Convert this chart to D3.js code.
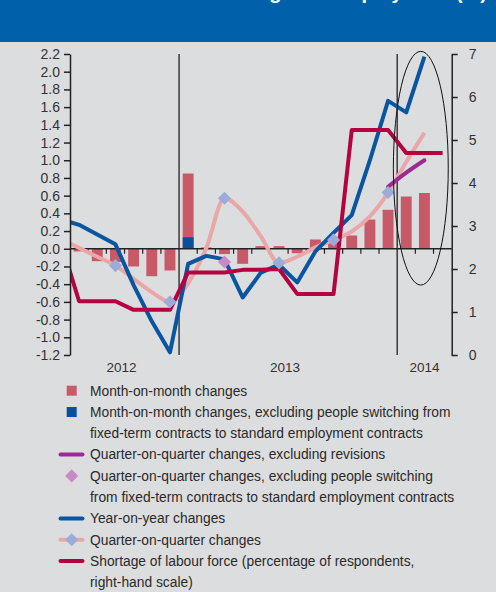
<!DOCTYPE html>
<html>
<head>
<meta charset="utf-8">
<script src="https://cdn.jsdelivr.net/npm/d3@7/dist/d3.min.js"></script>
<style>
  html, body { margin: 0; padding: 0; background: #dcdddf; }
  svg { display: block; font-family: "Liberation Sans", Arial, sans-serif; }
</style>
</head>
<body>
<svg id="chart" width="496" height="592"></svg>
<script>
// Months on the category axis (Jul 2012 – Mar 2014)
const months = ["2012-07","2012-08","2012-09","2012-10","2012-11","2012-12",
  "2013-01","2013-02","2013-03","2013-04","2013-05","2013-06",
  "2013-07","2013-08","2013-09","2013-10","2013-11","2013-12",
  "2014-01","2014-02","2014-03"];
// Line series start one month earlier (Jun 2012) and run off the left edge
const lineMonths = ["2012-06"].concat(months);

const years = ["2012", "2013", "2014"];

// Month-on-month changes (%), bars
const momChanges = [-0.03, -0.14, -0.15, -0.20, -0.31, -0.245,
  0.85, 0.015, -0.06, -0.17, 0.03, 0.03,
  -0.05, 0.105, 0.07, 0.15, 0.33, 0.44,
  0.59, 0.63, null];
// Month-on-month changes excluding contract switchers (%)
const momExclSwitch = [null, null, null, null, null, null,
  0.13, null, null, null, null, null,
  null, null, null, null, null, null,
  null, null, null];

// Year-on-year changes (%), from Jun 2012
const yoyChanges = [0.33, 0.27, 0.16, 0.05, -0.41, -0.82, -1.17,
  -0.17, -0.08, -0.12, -0.55, -0.27, -0.18,
  -0.38, -0.03, 0.18, 0.38, 1.00, 1.67,
  1.54, 2.17, null];
// Quarter-on-quarter changes (%), from Jun 2012
const qoqChanges = [0.11, 0.01, -0.09, -0.19, -0.34, -0.49, -0.60,
  -0.39, 0.01, 0.57, 0.42, 0.14, -0.16,
  -0.09, 0.015, 0.10, 0.195, 0.365, 0.635,
  0.98, 1.31, null];
// Quarter-on-quarter changes excluding revisions (%)
const qoqExclRevMonths = ["2013-12", "2014-01", "2014-02"];
const qoqExclRevValues = [0.70, 0.86, 1.00];
// Quarter-on-quarter change excluding contract switchers (%)
const qoqExclSwitchMonths = ["2013-03"];
const qoqExclSwitchValues = [-0.15];
// Quarter-end markers on the quarter-on-quarter line
const quarterEnds = ["2012-09", "2012-12", "2013-03", "2013-06", "2013-09", "2013-12"];

// Shortage of labour force (% of respondents, right-hand scale), from Jun 2012
const labourShortage = [2.62, 1.25, 1.25, 1.25, 1.05, 1.05, 1.05,
  1.92, 1.92, 1.92, 1.98, 1.98, 2.00,
  1.42, 1.42, 1.42, 5.23, 5.23, 5.23,
  4.70, 4.70, 4.70];

const leftTicks = d3.range(-1.2, 2.2001, 0.2).map(v => Math.round(v * 10) / 10);
const rightTicks = [0, 1, 2, 3, 4, 5, 6, 7];

const colors = {
  header: "#0060a9",
  bar: "#c75a66",
  barBlue: "#0a4f9c",
  yoy: "#0a559f",
  qoq: "#e9a7a7",
  qoqMarker: "#9cacd8",
  exclRev: "#9a2b93",
  exclSwitch: "#c98bc6",
  shortage: "#b5033f",
  axis: "#222"
};

const svg = d3.select("#chart");
const W = 496, H = 592;
const plot = { left: 70, right: 451.7, top: 54, bottom: 355 };

// Header band; the title sits above the top edge so only its descenders show
svg.append("rect").attr("x", 0).attr("y", 0).attr("width", W).attr("height", 42)
  .attr("fill", colors.header);
svg.append("text").attr("x", 487).attr("y", -1).attr("text-anchor", "end")
  .attr("fill", "#fff").attr("font-size", 20).attr("font-weight", "bold")
  .text("Changes in employment (%)");

// Scales
const xBand = d3.scaleBand().domain(months).range([plot.left, plot.right])
  .paddingInner(0.4).paddingOuter(0.2);
const step = xBand.step();
const xIdx = d3.scaleLinear().domain([-0.5, months.length - 0.5]).range([plot.left, plot.right]);
const xMonth = m => xIdx(months.indexOf(m));
const yL = d3.scaleLinear().domain([-1.2, 2.2]).range([plot.bottom, plot.top]);
const yR = d3.scaleLinear().domain([0, 7]).range([plot.bottom, plot.top]);

svg.append("clipPath").attr("id", "plotClip").append("rect")
  .attr("x", plot.left).attr("y", 0).attr("width", plot.right - plot.left).attr("height", H);

const g = svg.append("g");

// Bars
g.selectAll("rect.mom").data(months.map((m, i) => ({ m, v: momChanges[i] })).filter(d => d.v !== null))
  .join("rect").attr("class", "mom")
  .attr("x", d => xBand(d.m)).attr("width", xBand.bandwidth())
  .attr("y", d => yL(Math.max(0, d.v))).attr("height", d => Math.abs(yL(d.v) - yL(0)))
  .attr("fill", colors.bar);
g.selectAll("rect.momx").data(months.map((m, i) => ({ m, v: momExclSwitch[i] })).filter(d => d.v !== null))
  .join("rect").attr("class", "momx")
  .attr("x", d => xBand(d.m)).attr("width", xBand.bandwidth())
  .attr("y", d => yL(Math.max(0, d.v))).attr("height", d => Math.abs(yL(d.v) - yL(0)))
  .attr("fill", colors.barBlue);

// Year separators
[6, 12 + 6].forEach(k => {
  g.append("line").attr("x1", xIdx(k - 0.5)).attr("x2", xIdx(k - 0.5))
    .attr("y1", plot.top).attr("y2", plot.bottom)
    .attr("stroke", colors.axis).attr("stroke-width", 1.3);
});

// Zero line with month ticks
g.append("line").attr("x1", plot.left).attr("x2", plot.right)
  .attr("y1", yL(0)).attr("y2", yL(0)).attr("stroke", colors.axis).attr("stroke-width", 1.5);
d3.range(1, months.length).filter(k => k !== 6 && k !== 18).forEach(k => {
  g.append("line").attr("x1", xIdx(k - 0.5)).attr("x2", xIdx(k - 0.5))
    .attr("y1", yL(0)).attr("y2", yL(0) + 5)
    .attr("stroke", colors.axis).attr("stroke-width", 1.2);
});

// Lines
const lineGen = (yScale) => d3.line()
  .defined(d => d.v !== null)
  .x(d => xIdx(d.i)).y(d => yScale(d.v));
const series = arr => lineMonths.map((m, k) => ({ i: k - 1, v: arr[k] }));

const lines = g.append("g").attr("clip-path", "url(#plotClip)");
lines.append("path").datum(series(qoqChanges))
  .attr("d", lineGen(yL).curve(d3.curveMonotoneX))
  .attr("fill", "none").attr("stroke", colors.qoq).attr("stroke-width", 4).attr("stroke-linejoin", "round");
lines.append("path").datum(series(yoyChanges))
  .attr("d", lineGen(yL))
  .attr("fill", "none").attr("stroke", colors.yoy).attr("stroke-width", 4).attr("stroke-linejoin", "round");
lines.append("path").datum(series(labourShortage))
  .attr("d", lineGen(yR))
  .attr("fill", "none").attr("stroke", colors.shortage).attr("stroke-width", 4).attr("stroke-linejoin", "round");
lines.append("path").datum(qoqExclRevMonths.map((m, k) => ({ i: months.indexOf(m), v: qoqExclRevValues[k] })))
  .attr("d", lineGen(yL).curve(d3.curveMonotoneX))
  .attr("fill", "none").attr("stroke", colors.exclRev).attr("stroke-width", 4).attr("stroke-linecap", "round");

// Diamond markers
const diamond = d3.symbol().type(d3.symbolDiamond2).size(110);
g.selectAll("path.qm").data(quarterEnds).join("path").attr("class", "qm")
  .attr("transform", m => `translate(${xMonth(m)},${yL(qoqChanges[lineMonths.indexOf(m)])})`)
  .attr("d", diamond).attr("fill", colors.qoqMarker);
g.selectAll("path.qx").data(qoqExclSwitchMonths).join("path").attr("class", "qx")
  .attr("transform", (m, k) => `translate(${xMonth(m)},${yL(qoqExclSwitchValues[k])})`)
  .attr("d", diamond).attr("fill", colors.exclSwitch);

// Highlight ellipse around the latest readings
g.append("ellipse")
  .attr("cx", xIdx(18.8)).attr("cy", (yL(2.23) + yL(-0.41)) / 2)
  .attr("rx", step * 1.51).attr("ry", (yL(-0.41) - yL(2.23)) / 2)
  .attr("fill", "none").attr("stroke", "#111").attr("stroke-width", 1);

// Axes
const fmt = v => v.toFixed(1);
const leftAxis = svg.append("g").attr("transform", `translate(${plot.left},0)`)
  .call(d3.axisLeft(yL).tickValues(leftTicks).tickFormat(fmt).tickSize(6).tickSizeOuter(0).tickPadding(4));
const rightAxis = svg.append("g").attr("transform", `translate(${plot.right},0)`)
  .call(d3.axisRight(yR).tickValues(rightTicks).tickFormat(d3.format("d")).tickSize(6).tickSizeOuter(0).tickPadding(11));
[leftAxis, rightAxis].forEach(a => {
  a.select(".domain").attr("stroke", colors.axis).attr("stroke-width", 1.5);
  a.selectAll(".tick line").attr("stroke", colors.axis).attr("stroke-width", 1.5);
  a.selectAll(".tick text").attr("fill", "#333").attr("font-size", 14)
    .attr("font-family", "Liberation Sans, Arial, sans-serif");
});

// Year labels
const yearSpan = { "2012": [0, 5], "2013": [6, 17], "2014": [18, 20] };
svg.selectAll("text.year").data(years).join("text").attr("class", "year")
  .attr("x", y => (xIdx(yearSpan[y][0]) + xIdx(yearSpan[y][1])) / 2 - (y === "2014" ? 0 : 3))
  .attr("y", 372).attr("text-anchor", "middle")
  .attr("font-size", 13.5).attr("fill", "#333").text(y => y);

// Legend
const legendItems = [
  { type: "square", color: colors.bar, lines: ["Month-on-month changes"] },
  { type: "square", color: colors.barBlue, lines: ["Month-on-month changes, excluding people switching from", "fixed-term contracts to standard employment contracts"] },
  { type: "line", color: colors.exclRev, lines: ["Quarter-on-quarter changes, excluding revisions"] },
  { type: "diamond", color: colors.exclSwitch, lines: ["Quarter-on-quarter changes, excluding people switching", "from fixed-term contracts to standard employment contracts"] },
  { type: "line", color: colors.yoy, lines: ["Year-on-year changes"] },
  { type: "linediamond", color: colors.qoq, marker: colors.qoqMarker, lines: ["Quarter-on-quarter changes"] },
  { type: "line", color: colors.shortage, lines: ["Shortage of labour force (percentage of respondents,", "right-hand scale)"] }
];
const rowH = 21.3;
let row = 0;
const legend = svg.append("g");
legendItems.forEach(item => {
  const cy = 390.7 + row * rowH;
  if (item.type === "square") {
    legend.append("rect").attr("x", 66.7).attr("y", cy - 5).attr("width", 10).attr("height", 10).attr("fill", item.color);
  } else if (item.type === "line" || item.type === "linediamond") {
    legend.append("line").attr("x1", 60.5).attr("x2", 82.5).attr("y1", cy).attr("y2", cy)
      .attr("stroke", item.color).attr("stroke-width", 4).attr("stroke-linecap", "round");
    if (item.type === "linediamond") {
      legend.append("path").attr("transform", `translate(71.7,${cy})`).attr("d", diamond).attr("fill", item.marker);
    }
  } else if (item.type === "diamond") {
    legend.append("path").attr("transform", `translate(71.7,${cy})`).attr("d", diamond).attr("fill", item.color);
  }
  item.lines.forEach((t, k) => {
    legend.append("text").attr("x", 90).attr("y", cy + k * rowH + 4.8)
      .attr("font-size", 13.8).attr("fill", "#2a2a2a").text(t);
  });
  row += item.lines.length;
});
</script>
</body>
</html>
